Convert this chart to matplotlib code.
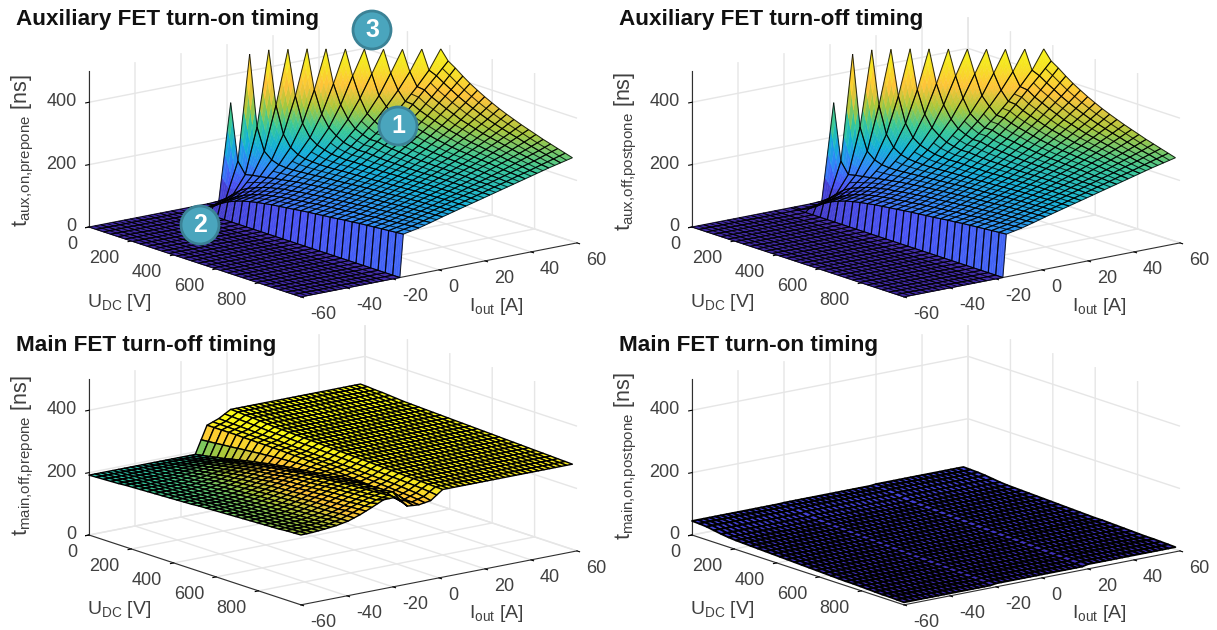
import matplotlib
matplotlib.use('Agg')
import matplotlib.pyplot as plt
from matplotlib.colors import LinearSegmentedColormap
from matplotlib.patches import Circle
from mpl_toolkits.mplot3d import proj3d
from mpl_toolkits.mplot3d.art3d import Poly3DCollection, Line3DCollection
import numpy as np

plt.rcParams['font.family'] = ['Liberation Sans', 'DejaVu Sans']
plt.rcParams['mathtext.fontset'] = 'custom'
plt.rcParams['mathtext.rm'] = 'Liberation Sans'
plt.rcParams['mathtext.default'] = 'rm'
plt.rcParams['axes.unicode_minus'] = False

n = float('nan')

# grid
u_dc = [0, 34, 69, 103, 138, 172, 207, 241, 276, 310, 345, 379, 414, 448, 483,
        517, 552, 586, 621, 655, 690, 724, 759, 793, 828, 862, 897, 931, 966, 1000]
i_out = [-60, -54.9, -49.7, -44.6, -39.5, -34.3, -29.2, -24.1, -17, -15.5, -8.7, -3.6,
         1.6, 6.7, 11.8, 17, 22.1, 27.2, 32.4, 37.5, 42.6, 47.7, 52.9, 58]
# the main FET plots have a finer mesh
i_main_off = [-60, -54.9, -49.7, -44.6, -39.5, -34.3, -29.2, -24.1, -19, -13.8, -8.7, -3.6,
              1.6, 4, 6.5, 9, 11.4, 13.9, 16.3, 18.8, 21.2, 23.7, 26.1, 28.6,
              31, 33.5, 35.9, 38.4, 40.8, 43.3, 45.7, 48.2, 50.6, 53.1, 55.5, 58]
i_main_on = [-60, -57.5, -55, -52.5, -50, -47.5, -45, -42.5, -40, -37.5, -35, -32.5,
             -30, -27.5, -25, -22.5, -20, -17.5, -15, -12.5, -10, -7.5, -5, -2.5,
             0, 2.5, 5, 7.5, 10, 12.5, 15, 17.5, 20, 22.5, 25, 27.5,
             30, 32.5, 35, 37.5, 40, 42.5, 45, 47.5, 50, 52.5, 55, 58]

# aux turn-on, rows = u_dc, cols = i_out, nan = above the z limit
t_aux_on = [
    [0]*9 + [0, 0, 2, 310] + [n]*11,
    [0]*9 + [0, 5, 18, 130, 466] + [n]*10,
    [0]*9 + [10, 20, 40, 95, 240, 480] + [n]*9,
    [0]*9 + [25, 38, 60, 100, 170, 310, 482] + [n]*8,
    [0]*9 + [42, 54, 74, 104, 150, 225, 340, 484] + [n]*7,
    [0]*9 + [55, 66, 83, 108, 142, 190, 260, 360, 484] + [n]*6,
    [0]*9 + [65, 76, 92, 113, 140, 175, 222, 290, 380, 484] + [n]*5,
    [0]*9 + [73, 84, 99, 117, 140, 169, 206, 254, 320, 405, 484] + [n]*4,
    [0]*9 + [79, 90, 104, 121, 142, 167, 198, 236, 282, 342, 412, 484] + [n]*3,
    [0]*9 + [84, 95, 109, 125, 144, 166, 192, 223, 259, 300, 350, 415, 484] + [n]*2,
    [0]*9 + [88, 99, 112, 128, 146, 166, 190, 217, 248, 283, 323, 368, 420, 485] + [n],
    [0]*9 + [92, 103, 116, 131, 148, 167, 189, 213, 240, 270, 303, 340, 380, 425, 486],
    [0]*9 + [95, 106, 119, 134, 150, 169, 190, 214, 241, 270, 302, 338, 377, 415, 455],
    [0]*9 + [98, 109, 122, 136, 152, 170, 190, 212, 236, 263, 293, 326, 362, 400, 440],
    [0]*9 + [101, 112, 125, 139, 154, 171, 189, 210, 233, 258, 286, 317, 351, 386, 422],
    [0]*9 + [104, 115, 128, 141, 156, 172, 190, 209, 231, 255, 281, 309, 340, 372, 406],
    [0]*9 + [107, 118, 130, 143, 158, 173, 190, 209, 229, 251, 275, 301, 330, 360, 392],
    [0]*9 + [109, 120, 132, 146, 160, 175, 191, 208, 227, 248, 270, 294, 320, 349, 379],
    [0]*9 + [112, 123, 135, 148, 162, 176, 192, 208, 226, 245, 266, 289, 313, 339, 367],
    [0]*9 + [114, 125, 137, 150, 163, 177, 192, 208, 225, 243, 262, 283, 306, 330, 356],
    [0]*9 + [117, 128, 140, 152, 165, 179, 193, 208, 224, 241, 259, 278, 299, 322, 346],
    [0]*9 + [120, 130, 142, 154, 167, 180, 194, 209, 224, 240, 257, 275, 294, 315, 337],
    [0]*9 + [122, 132, 144, 156, 169, 182, 195, 209, 223, 238, 254, 271, 289, 308, 328],
    [0]*9 + [125, 135, 146, 158, 170, 183, 196, 209, 223, 237, 252, 268, 284, 302, 320],
    [0]*9 + [127, 137, 148, 160, 172, 184, 196, 209, 222, 236, 250, 264, 279, 295, 312],
    [0]*9 + [129, 139, 150, 161, 173, 185, 197, 209, 221, 234, 247, 260, 274, 289, 304],
    [0]*9 + [131, 141, 152, 163, 174, 186, 197, 209, 220, 232, 244, 257, 270, 283, 297],
    [0]*9 + [133, 143, 154, 165, 176, 187, 198, 209, 220, 231, 242, 254, 265, 278, 290],
    [0]*9 + [135, 145, 155, 166, 177, 187, 198, 208, 219, 229, 240, 250, 261, 272, 283],
    [0]*9 + [137, 147, 157, 168, 178, 188, 198, 208, 218, 228, 238, 248, 258, 267, 276],
]

# aux turn-off reads the same as turn-on within what the picture resolves
t_aux_off = t_aux_on

t_main_off = [
    [192, 192, 192, 192, 192, 192, 192, 192, 192, 192, 278, 292] + [314]*24,
    [193, 193, 193, 193, 194, 194, 195, 196, 196, 196, 278, 291] + [313]*24,
    [194, 194, 194, 195, 196, 197, 198, 199, 200, 200, 278, 290] + [311]*24,
    [195, 195, 196, 196, 198, 200, 202, 204, 205, 205, 278, 289] + [310]*24,
    [196, 196, 197, 198, 200, 202, 206, 208, 210, 209, 278, 288] + [308]*24,
    [198, 198, 199, 200, 202, 206, 210, 214, 216, 215, 277, 287] + [306]*24,
    [199, 199, 200, 202, 205, 209, 214, 218, 221, 220, 277, 286] + [304]*24,
    [200, 201, 201, 203, 207, 212, 218, 223, 226, 225, 276, 285] + [303]*24,
    [201, 202, 203, 205, 209, 215, 221, 227, 231, 230, 276, 284] + [302]*24,
    [202, 203, 204, 206, 211, 217, 225, 232, 236, 234, 275, 283] + [301]*24,
    [203, 204, 205, 208, 213, 220, 229, 236, 241, 239, 275, 282] + [300]*24,
    [204, 205, 206, 209, 214, 222, 232, 240, 245, 243, 274, 281] + [299]*24,
    [205, 206, 207, 210, 216, 225, 235, 244, 249, 247, 273, 280] + [298]*24,
    [206, 207, 208, 212, 218, 227, 237, 246, 252, 250, 272, 279] + [297]*24,
    [207, 208, 209, 213, 219, 229, 240, 249, 255, 253, 271, 278] + [296]*24,
    [209, 210, 211, 215, 221, 231, 243, 253, 259, 256, 270, 277] + [295]*24,
    [210, 211, 213, 216, 223, 233, 245, 256, 262, 259, 269, 276] + [294]*24,
    [211, 212, 214, 217, 225, 235, 248, 259, 265, 262, 268, 275] + [293]*24,
    [212, 213, 215, 219, 226, 237, 249, 260, 267, 264, 266, 274] + [292]*24,
    [213, 214, 216, 220, 227, 238, 251, 262, 269, 266, 264, 273] + [291]*24,
    [214, 215, 217, 221, 228, 240, 253, 264, 271, 268, 262, 272] + [290]*24,
    [215, 216, 218, 222, 230, 241, 254, 266, 273, 270, 260, 271] + [289]*24,
    [216, 217, 219, 223, 231, 243, 256, 268, 275, 272, 258, 270] + [288]*24,
    [217, 218, 220, 224, 232, 244, 258, 270, 277, 274, 256, 269] + [287]*24,
    [218, 219, 221, 225, 233, 245, 259, 271, 278, 275, 254, 268] + [286]*24,
    [219, 220, 222, 226, 234, 246, 260, 273, 280, 277, 252, 266] + [285]*24,
    [220, 221, 223, 227, 235, 247, 261, 274, 281, 278, 250, 264] + [284]*24,
    [222, 223, 225, 229, 237, 250, 264, 276, 283, 280, 249, 262] + [283]*24,
    [223, 224, 226, 230, 238, 251, 265, 277, 285, 262, 248, 258] + [282]*24,
    [224, 225, 228, 232, 239, 252, 268, 285, 286, 250, 247, 253] + [281]*24,
]

t_main_on = [
    [45]*16 + [46]*16 + [48]*16, [44]*16 + [45]*16 + [47]*16, [42]*16 + [44]*16 + [46]*16,
    [38]*16 + [41]*16 + [44]*16, [34]*16 + [37]*16 + [41]*16, [31]*16 + [34]*16 + [38]*16,
    [29]*16 + [32]*16 + [36]*16, [28]*16 + [31]*16 + [35]*16, [27]*16 + [30]*16 + [34]*16,
    [26]*16 + [29]*16 + [33]*16, [25]*16 + [28]*16 + [32]*16, [24]*16 + [27]*16 + [31]*16,
    [23]*16 + [26]*16 + [30]*16, [22]*16 + [25]*16 + [29]*16, [21]*16 + [24]*16 + [28]*16,
    [20]*16 + [23]*16 + [27]*16, [19]*16 + [22]*16 + [26]*16, [18]*16 + [21]*16 + [25]*16,
    [17]*16 + [20]*16 + [24]*16, [16]*16 + [20]*16 + [24]*16, [15]*16 + [19]*16 + [23]*16,
    [14]*16 + [18]*16 + [22]*16, [14]*16 + [17]*16 + [21]*16, [13]*16 + [16]*16 + [20]*16,
    [12]*16 + [15]*16 + [19]*16, [11]*16 + [14]*16 + [18]*16, [10]*16 + [14]*16 + [18]*16,
    [10]*16 + [13]*16 + [17]*16, [9]*16 + [12]*16 + [16]*16, [8]*16 + [11]*16 + [15]*16,
]

u_ticks = [0, 200, 400, 600, 800]
i_ticks = [-60, -40, -20, 0, 20, 40, 60]
z_ticks = [0, 200, 400]

parula = LinearSegmentedColormap.from_list('parula', [
    (0.2422, 0.1504, 0.6603), (0.2810, 0.3228, 0.9579), (0.1786, 0.5289, 0.9682),
    (0.0689, 0.6948, 0.8394), (0.2161, 0.7843, 0.5923), (0.6720, 0.7793, 0.2227),
    (0.9970, 0.7659, 0.2199), (0.9624, 0.8940, 0.1300), (0.9769, 0.9839, 0.0805)])


def pix(ax, u, i, z):
    x, y, _ = proj3d.proj_transform(u, i, z, ax.get_proj())
    return ax.transData.transform((x, y))


def draw_flat(ax, i_grid, z, clim, lw):
    polys, cols = [], []
    for r in range(len(u_dc) - 1):
        for c in range(len(i_grid) - 1):
            cell = z[r:r + 2, c:c + 2]
            if np.isnan(cell).any():
                continue
            # wide cells get one extra mesh line, the picture's mesh is tighter there
            parts = 2 if i_grid[c + 1] - i_grid[c] > 3 else 1
            for s in range(parts):
                b0, b1 = s / parts, (s + 1) / parts
                i0 = i_grid[c] + (i_grid[c + 1] - i_grid[c]) * b0
                i1 = i_grid[c] + (i_grid[c + 1] - i_grid[c]) * b1
                top = cell[:, 0] * (1 - b0) + cell[:, 1] * b0
                bot = cell[:, 0] * (1 - b1) + cell[:, 1] * b1
                polys.append([(u_dc[r], i0, top[0]), (u_dc[r + 1], i0, top[1]),
                              (u_dc[r + 1], i1, bot[1]), (u_dc[r], i1, bot[0])])
                cols.append(parula((np.mean([top, bot]) - clim[0]) / (clim[1] - clim[0])))
    surf = Poly3DCollection(polys, facecolors=cols, edgecolors='k', linewidths=lw)
    surf.set_clip_on(False)
    ax.add_collection3d(surf)


def draw_shaded(ax, i_grid, z, clim, lw, sub=4):
    # shading interp look: each cell painted in sub x sub pieces, mesh lines on top
    ax.computed_zorder = False
    polys, cols, segs = [], [], []
    for r in range(len(u_dc) - 1):
        for c in range(len(i_grid) - 1):
            cell = z[r:r + 2, c:c + 2]
            if np.isnan(cell).any():
                continue
            u0, u1, i0, i1 = u_dc[r], u_dc[r + 1], i_grid[c], i_grid[c + 1]
            wall = cell.min() == 0 and cell.max() > 0

            def corner(a, b):
                zz = (cell[0, 0] * (1 - a) + cell[1, 0] * a) * (1 - b) + (cell[0, 1] * (1 - a) + cell[1, 1] * a) * b
                return (u0 + (u1 - u0) * a, i0 + (i1 - i0) * b, zz)
            for a in range(sub):
                for b in range(sub):
                    pts = [corner(a / sub, b / sub), corner((a + 1) / sub, b / sub),
                           corner((a + 1) / sub, (b + 1) / sub), corner(a / sub, (b + 1) / sub)]
                    polys.append(pts)
                    val = cell.max() * 0.6 if wall else np.mean([p[2] for p in pts])
                    cols.append(parula((val - clim[0]) / (clim[1] - clim[0])))
            a, b, c2, d = corner(0, 0), corner(1, 0), corner(1, 1), corner(0, 1)
            segs += [(a, b), (b, c2), (c2, d), (d, a)]
            # the mesh is tighter where the surface is flat
            if np.abs(cell[:, 1] - cell[:, 0]).max() < 45 and i1 - i0 > 3:
                segs.append((corner(0, 0.5), corner(1, 0.5)))
    surf = Poly3DCollection(polys, facecolors=cols, edgecolors=cols, linewidths=0.3, zorder=1)
    surf.set_clip_on(False)
    ax.add_collection3d(surf)
    mesh = Line3DCollection(segs, colors='k', linewidths=lw, alpha=0.8, zorder=2)
    mesh.set_clip_on(False)
    ax.add_collection3d(mesh)


def panel(ox, oy, i_grid, data, clim, lw, shaded, title, title_y, zlabel, zlabel_y):
    ax = fig.add_axes([0, 0, 1, 1], projection='3d', proj_type='ortho')
    ax.set_facecolor('none')
    ax.view_init(elev=14.7, azim=-37.6)
    ax.set_xlim(0, 1000)
    ax.set_ylim(-60, 60)
    ax.set_zlim(0, 500)
    aspect = (347, 348, 161)
    ax.set_box_aspect(aspect)
    ax.apply_aspect()
    # scale and shift so the floor corners land where the reference has them
    a = pix(ax, 0, -60, 0)
    b = pix(ax, 1000, 60, 0)
    ax.set_box_aspect(aspect, zoom=(577 - 89) / (b[0] - a[0]))
    ax.apply_aspect()
    a = pix(ax, 0, -60, 0)
    pos = ax.get_position()
    dx = (89 + ox - a[0]) / W
    dy = ((H - 227 - oy) - a[1]) / H
    ax.set_position([pos.x0 + dx, pos.y0 + dy, pos.width, pos.height])

    z = np.array(data, dtype=float)
    if shaded:
        draw_shaded(ax, i_grid, z, clim, lw)
    else:
        draw_flat(ax, i_grid, z, clim, lw)

    ax.set_xticks(u_ticks)
    ax.set_yticks(i_ticks)
    ax.set_zticks(z_ticks)
    ax.set_xlim(0, 1000)
    ax.set_ylim(-60, 60)
    ax.set_zlim(0, 500)
    for axis in (ax.xaxis, ax.yaxis, ax.zaxis):
        axis.set_pane_color((1, 1, 1, 0))
        axis.pane.set_edgecolor('#e6e6e6')
        axis.line.set_color('#303030')
        axis._axinfo['grid'].update(color='#e6e6e6', linewidth=1)
        axis._axinfo['tick'].update(inward_factor=0.15, outward_factor=0)
    ax.tick_params(axis='x', labelsize=13, labelcolor='#404040', pad=2)
    ax.tick_params(axis='y', labelsize=13, labelcolor='#404040', pad=2)
    ax.tick_params(axis='z', labelsize=13, labelcolor='#404040', pad=-2)
    ax.zaxis.set_ticks_position('lower')
    for tick in ax.xaxis.get_major_ticks():
        tick.label1.set_ha('right')
    for tick in ax.yaxis.get_major_ticks():
        tick.label1.set_ha('left')
    for tick in ax.zaxis.get_major_ticks():
        tick.label1.set_ha('right')
        tick.label1.set_va('center')

    fig.text((16 + ox) / W, 1 - title_y / H, title, fontsize=16.2, fontweight='bold', va='center', color='#111111')
    fig.text((119 + ox) / W, 1 - (302 + oy) / H, r'$U_{DC}$ [V]', fontsize=14, color='#404040', ha='center', va='center')
    fig.text((496 + ox) / W, 1 - (306 + oy) / H, r'$I_{out}$ [A]', fontsize=14, color='#404040', ha='center', va='center')
    fig.text((23 + ox) / W, 1 - zlabel_y / H, zlabel, fontsize=15.5, color='#404040', rotation=90, ha='center', va='center')


def badge(x, y, label):
    fig.add_artist(Circle((x, H - y), 19, transform=None, facecolor='#4aa5bd', edgecolor='#3b8296', linewidth=2, zorder=20))
    fig.text(x / W, 1 - y / H, label, color='white', fontsize=18, fontweight='bold', ha='center', va='center', zorder=21)


W, H = 1217, 630
fig = plt.figure(figsize=(W / 100, H / 100), dpi=100, facecolor='white')

panel(0, 0, i_out, t_aux_on, (0, 500), 0.75, True, 'Auxiliary FET turn-on timing', 20,
      r'$t_{aux{,}on{,}prepone}$ [ns]', 151)
panel(603, 0, i_out, t_aux_off, (0, 500), 0.75, True, 'Auxiliary FET turn-off timing', 20,
      r'$t_{aux{,}off{,}postpone}$ [ns]', 151)
panel(0, 308, i_main_off, t_main_off, (100, 300), 1.0, False, 'Main FET turn-off timing', 345,
      r'$t_{main{,}off{,}prepone}$ [ns]', 456)
panel(603, 308, i_main_on, t_main_on, (0, 500), 1.3, False, 'Main FET turn-on timing', 345,
      r'$t_{main{,}on{,}postpone}$ [ns]', 456)

badge(372, 30, '3')
badge(398, 126, '1')
badge(200, 225, '2')

fig.savefig('out.png', dpi=100)
